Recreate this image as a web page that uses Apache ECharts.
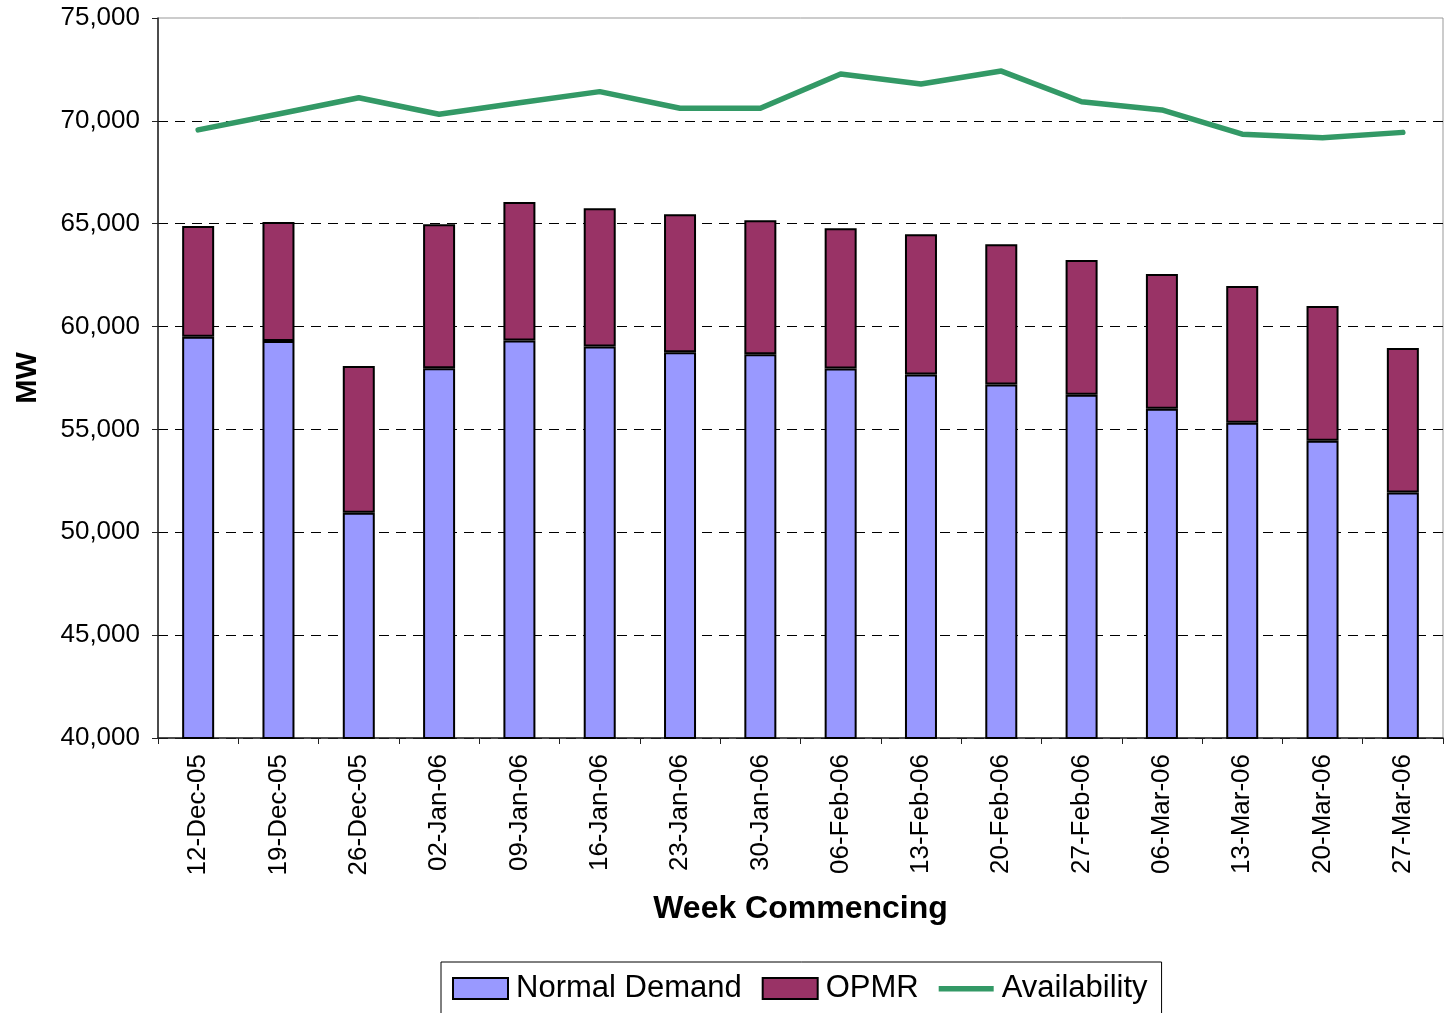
<!DOCTYPE html>
<html>
<head>
<meta charset="utf-8">
<script src="https://cdn.jsdelivr.net/npm/echarts@6/dist/echarts.min.js"></script>
<style>
html,body{margin:0;padding:0;background:#fff;}
#chart{width:1445px;height:1013px;}
</style>
</head>
<body>
<div id="chart"></div>
<script>
var categories = ['12-Dec-05','19-Dec-05','26-Dec-05','02-Jan-06','09-Jan-06','16-Jan-06','23-Jan-06','30-Jan-06','06-Feb-06','13-Feb-06','20-Feb-06','27-Feb-06','06-Mar-06','13-Mar-06','20-Mar-06','27-Mar-06'];
var normalDemand = [59500, 59300, 50950, 57970, 59320, 59030, 58750, 58650, 57960, 57670, 57180, 56690, 56000, 55320, 54450, 51930];
var opmr = [5390, 5780, 7130, 7000, 6730, 6720, 6710, 6520, 6820, 6820, 6820, 6550, 6560, 6650, 6550, 7030];
var availability = [69560, 70330, 71120, 70320, 70880, 71420, 70610, 70610, 72280, 71790, 72420, 70930, 70530, 69350, 69180, 69440];
var yMin = 40000, yMax = 75000, yStep = 5000;

var FONT = '"Liberation Sans", Arial, sans-serif';
var chart = echarts.init(document.getElementById('chart'));
chart.setOption({
  animation: false,
  backgroundColor: '#ffffff',
  textStyle: {fontFamily: FONT},
  grid: {left: 158, right: 2, top: 18, bottom: 275, show: true, borderColor: '#999999', borderWidth: 1},
  legend: {
    left: 441, top: 962,
    borderColor: '#000', borderWidth: 1,
    padding: [11, 14, 10, 11],
    itemWidth: 55, itemHeight: 21, itemGap: 20,
    textStyle: {fontFamily: FONT, fontSize: 31, color: '#000', padding: [0, 0, 0, 3]},
    data: [
      {name: 'Normal Demand', icon: 'rect'},
      {name: 'OPMR', icon: 'rect'},
      {name: 'Availability', icon: 'path://M0,0 L0.01,0 Z M0,8 L55,8 L55,13.5 L0,13.5 Z M55,21 L54.99,21 Z',
        itemStyle: {color: '#339966', borderWidth: 0}}
    ]
  },
  xAxis: {
    type: 'category',
    data: categories,
    name: 'Week Commencing',
    nameLocation: 'middle',
    nameGap: 155,
    nameTextStyle: {fontFamily: FONT, fontSize: 32, fontWeight: 'bold', color: '#000', verticalAlign: 'top'},
    axisLine: {lineStyle: {color: '#222', width: 1.5}},
    axisTick: {show: true, length: 6, lineStyle: {color: '#222'}},
    axisLabel: {rotate: 90, margin: 16, fontSize: 26, color: '#000', fontFamily: FONT}
  },
  yAxis: {
    type: 'value',
    min: yMin, max: yMax, interval: yStep,
    name: 'MW',
    nameLocation: 'middle',
    nameGap: 116,
    nameRotate: 90,
    nameTextStyle: {fontFamily: FONT, fontSize: 29, fontWeight: 'bold', color: '#000'},
    axisLine: {show: true, lineStyle: {color: '#222', width: 1.5}},
    axisTick: {show: true, length: 6, lineStyle: {color: '#222'}},
    axisLabel: {margin: 18, fontSize: 26, color: '#000', fontFamily: FONT,
      formatter: function (v) { return v.toLocaleString('en-US'); }},
    splitLine: {show: true, showMaxLine: false, lineStyle: {color: '#000', type: [10, 7], width: 1}}
  },
  series: [
    {
      name: 'Normal Demand', type: 'bar', stack: 'd', data: normalDemand, barWidth: 32,
      itemStyle: {color: '#9999FF', borderColor: '#000', borderWidth: 2}
    },
    {
      name: 'OPMR', type: 'bar', stack: 'd', data: opmr, barWidth: 32,
      itemStyle: {color: '#993366', borderColor: '#000', borderWidth: 2}
    },
    {
      name: 'Availability', type: 'line', data: availability, symbol: 'none', z: 5,
      lineStyle: {color: '#339966', width: 5.5, cap: 'round', join: 'round'},
      itemStyle: {color: '#339966'}
    }
  ]
});
</script>
</body>
</html>
